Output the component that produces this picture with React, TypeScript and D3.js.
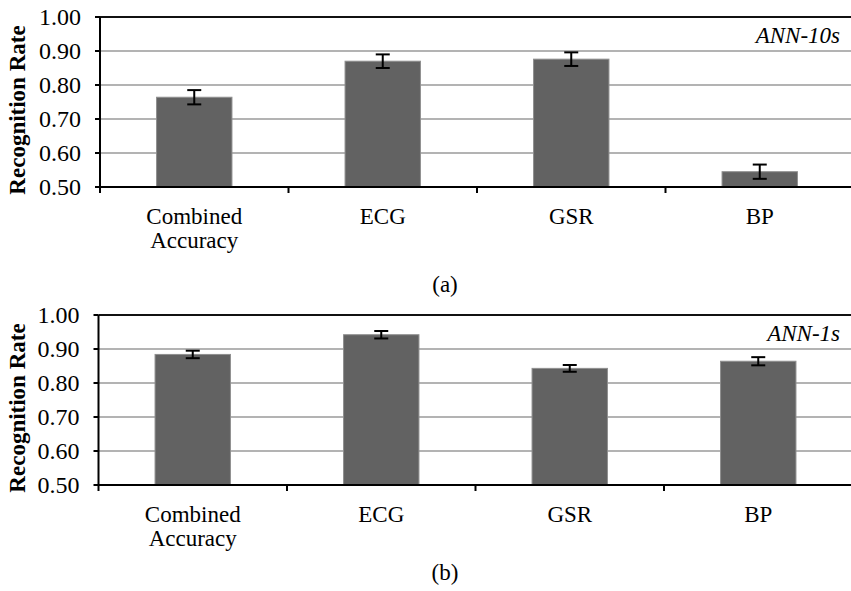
import React from 'react';
import { scaleBand, scaleLinear } from 'd3';

// values
const categories = ['Combined Accuracy', 'ECG', 'GSR', 'BP'];
const rate10s = [0.764, 0.870, 0.876, 0.545];
const err10s = [0.021, 0.020, 0.020, 0.021];
const rate1s = [0.884, 0.942, 0.843, 0.864];
const err1s = [0.011, 0.011, 0.010, 0.012];
const yTicks = [0.5, 0.6, 0.7, 0.8, 0.9, 1.0];

const FONT = '"Liberation Serif", "Times New Roman", serif';

const Panel = ({ top, left, right, values, errors, tag, caption, captionY }) => {
    const height = 170;
    const x = scaleBand().domain(categories).range([left, right]).padding(0);
    const y = scaleLinear().domain([0.5, 1.0]).range([top + height, top]);
    const barW = x.bandwidth() * 0.4;
    const bottom = y(0.5);

    return (
        <g>
            {yTicks.slice(1, -1).map(t => (
                <line key={'g' + t} x1={left} x2={right} y1={y(t)} y2={y(t)} stroke='#9a9a9a' strokeWidth={1.6} />
            ))}
            <line x1={left} x2={right} y1={y(1)} y2={y(1)} stroke='#111' strokeWidth={2} />
            {values.map((v, i) => {
                const cx = x(categories[i]) + x.bandwidth() / 2;
                return (
                    <rect key={'b' + i} x={cx - barW / 2} y={y(v)} width={barW} height={bottom - y(v)}
                        fill='#626262' stroke='#8f8f8f' strokeWidth={1} />
                );
            })}
            {values.map((v, i) => {
                const cx = x(categories[i]) + x.bandwidth() / 2;
                const hi = y(v + errors[i]);
                const lo = y(v - errors[i]);
                return (
                    <g key={'e' + i} stroke='#000' strokeWidth={2}>
                        <line x1={cx} x2={cx} y1={hi} y2={lo} />
                        <line x1={cx - 7} x2={cx + 7} y1={hi} y2={hi} />
                        <line x1={cx - 7} x2={cx + 7} y1={lo} y2={lo} />
                    </g>
                );
            })}
            {/* axes */}
            <line x1={left} x2={left} y1={top} y2={bottom + 6} stroke='#000' strokeWidth={2} />
            <line x1={left} x2={right} y1={bottom} y2={bottom} stroke='#000' strokeWidth={2} />
            {yTicks.map(t => (
                <g key={'t' + t}>
                    <line x1={left - 5} x2={left} y1={y(t)} y2={y(t)} stroke='#000' strokeWidth={2} />
                    <text x={left - 19} y={y(t) + 8} textAnchor='end' fontFamily={FONT} fontSize={24}>{t.toFixed(2)}</text>
                </g>
            ))}
            {categories.slice(1).map(c => (
                <line key={'xt' + c} x1={x(c)} x2={x(c)} y1={bottom} y2={bottom + 6} stroke='#000' strokeWidth={2} />
            ))}
            {categories.map(c => {
                const cx = x(c) + x.bandwidth() / 2;
                const words = c === 'Combined Accuracy' ? ['Combined', 'Accuracy'] : [c];
                return (
                    <text key={'l' + c} x={cx} y={bottom + 37} textAnchor='middle' fontFamily={FONT} fontSize={23}>
                        {words.map((w, k) => (
                            <tspan key={w} x={cx} dy={k === 0 ? 0 : 24}>{w}</tspan>
                        ))}
                    </text>
                );
            })}
            <text transform={`translate(25,${top + height / 2 + 8}) rotate(-90)`} textAnchor='middle'
                fontFamily={FONT} fontSize={23} fontWeight='bold'>Recognition Rate</text>
            <text x={840} y={top + 26} textAnchor='end' fontFamily={FONT} fontSize={23} fontStyle='italic'>{tag}</text>
            <text x={445} y={captionY} textAnchor='middle' fontFamily={FONT} fontSize={23}>{caption}</text>
        </g>
    );
};

const App = () => (
    <svg width={851} height={591} style={{ position: 'absolute', left: 0, top: 0, background: '#fff' }}>
        <rect width={851} height={591} fill='#fff' />
        <Panel top={17} left={100} right={854} values={rate10s} errors={err10s} tag='ANN-10s' caption='(a)' captionY={292} />
        <Panel top={315} left={98.5} right={852.5} values={rate1s} errors={err1s} tag='ANN-1s' caption='(b)' captionY={580} />
    </svg>
);

export default App;
